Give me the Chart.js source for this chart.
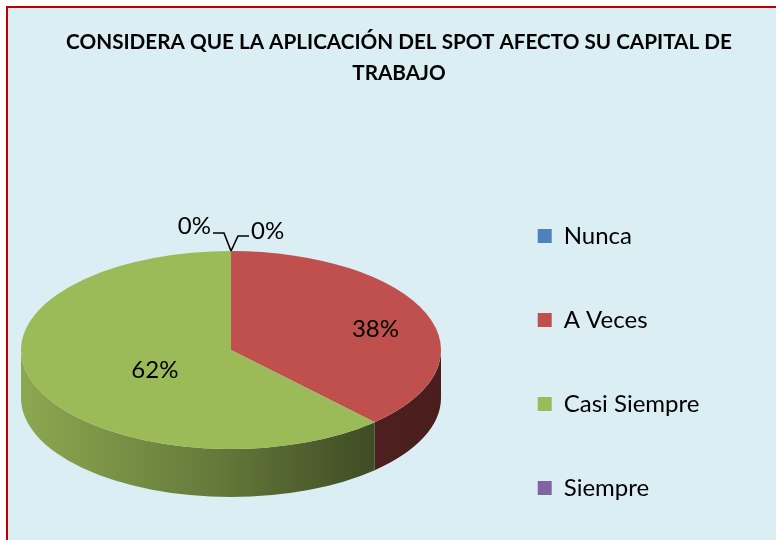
<!DOCTYPE html>
<html>
<head>
<meta charset="utf-8">
<script src="https://cdn.jsdelivr.net/npm/chart.js@4.4.1/dist/chart.umd.min.js"></script>
<style>
  body { margin: 0; background: #fff; overflow: hidden; width: 776px; height: 540px; position: relative; }
  #frame { position: absolute; left: 6px; top: 6px; width: 820px; height: 720px; border: 2px solid #c00000; background: #dbeef4; }
  #pie1 { position: absolute; left: 0; top: 0; }
</style>
</head>
<body>
<div id="frame"></div>
<canvas id="pie1" width="776" height="724"></canvas>
<script>
var titleLines = ["CONSIDERA QUE LA APLICACIÓN DEL SPOT AFECTO SU CAPITAL DE", "TRABAJO"];
var labels = ["Nunca", "A Veces", "Casi Siempre", "Siempre"];
var values = [0, 38, 62, 0];
var colors = ['#4f81bd', '#c0504d', '#9bbb59', '#8064a2'];

// darken a hex colour by factor f
function shade(hex, f) {
  var n = parseInt(hex.slice(1), 16);
  var r = Math.round(((n >> 16) & 255) * f);
  var g = Math.round(((n >> 8) & 255) * f);
  var b = Math.round((n & 255) * f);
  return 'rgb(' + r + ',' + g + ',' + b + ')';
}

// draws the pie as a tilted disc: sides first, then the library's own arcs squashed
var pie3d = {
  id: 'pie3d',
  beforeDatasetsDraw: function(chart, args, o) {
    var ctx = chart.ctx;
    var arcs = chart.getDatasetMeta(0).data;
    arcs.forEach(function(arc, i) {
      var lo = Math.max(arc.startAngle, 0);
      var hi = Math.min(arc.endAngle, Math.PI);
      if (hi <= lo) return;
      var c = colors[i];
      var g = ctx.createLinearGradient(o.cx - o.rx, 0, o.cx + o.rx, 0);
      g.addColorStop(0, shade(c, 0.9));
      g.addColorStop(0.45, shade(c, 0.66));
      g.addColorStop(0.85, shade(c, 0.4));
      g.addColorStop(1, shade(c, 0.38));
      ctx.beginPath();
      ctx.ellipse(o.cx, o.cy, o.rx, o.ry, 0, lo, hi, false);
      ctx.ellipse(o.cx, o.cy + o.depth, o.rx, o.ry, 0, hi, lo, true);
      ctx.closePath();
      ctx.fillStyle = g;
      ctx.fill();
    });
    var a = arcs[0];
    ctx.save();
    ctx.translate(o.cx, o.cy);
    ctx.scale(o.rx / a.outerRadius, o.ry / a.outerRadius);
    ctx.translate(-a.x, -a.y);
  },
  afterDatasetsDraw: function(chart, args, o) {
    var ctx = chart.ctx;
    ctx.restore();
    var arcs = chart.getDatasetMeta(0).data;
    var total = values.reduce(function(s, v) { return s + v; }, 0);
    ctx.save();
    ctx.font = '24px Lato';
    ctx.fillStyle = '#000';
    ctx.strokeStyle = '#000';
    ctx.lineWidth = 1.6;
    ctx.textBaseline = 'middle';
    arcs.forEach(function(arc, i) {
      var txt = Math.round(values[i] / total * 100) + '%';
      if (values[i] > 0) {
        var mid = (arc.startAngle + arc.endAngle) / 2;
        var f = o.labelRadius[i];
        ctx.textAlign = 'center';
        ctx.fillText(txt, o.cx + o.rx * f * Math.cos(mid), o.cy + o.ry * f * Math.sin(mid) + o.labelDy);
      } else {
        // zero slice: leader line from the rim
        var ax = o.cx + o.rx * Math.cos(arc.startAngle);
        var ay = o.cy + o.ry * Math.sin(arc.startAngle);
        var side = i === 0 ? 1 : -1;
        var ex = ax + side * 7, ey = ay - (i === 0 ? 15 : 18);
        ctx.beginPath();
        ctx.moveTo(ax, ay);
        ctx.lineTo(ex, ey);
        ctx.lineTo(ex + side * 11, ey);
        ctx.stroke();
        ctx.textAlign = i === 0 ? 'left' : 'right';
        ctx.fillText(txt, ex + side * 13, ey - (i === 0 ? 5 : 7));
      }
    });
    ctx.restore();
  }
};

var pie1e = document.getElementById("pie1");
var pie1 = new Chart(pie1e, {
  type: 'pie',
  data: {
    labels: labels,
    datasets: [{
      data: values,
      backgroundColor: colors,
      borderWidth: 0,
      clip: false
    }]
  },
  options: {
    responsive: false,
    animation: false,
    layout: { padding: { left: 64, right: 42 } },
    plugins: {
      title: {
        display: true,
        text: titleLines,
        color: '#000',
        font: { family: 'Lato', size: 20.7, weight: 'bold', lineHeight: 1.5 },
        padding: { top: 27, bottom: 0 }
      },
      legend: {
        position: 'right',
        labels: {
          boxWidth: 14,
          boxHeight: 14,
          padding: 60,
          color: '#000',
          font: { family: 'Lato', size: 24 },
          // trailing spaces widen the legend column so it sits further left
          generateLabels: function(chart) {
            var items = Chart.overrides.pie.plugins.legend.labels.generateLabels(chart);
            items.forEach(function(it) { it.text = it.text + '    '; });
            return items;
          }
        }
      },
      tooltip: { enabled: false },
      pie3d: { cx: 231, cy: 350, rx: 210, ry: 99, depth: 48, labelRadius: [0.7, 0.74, 0.39, 0.7], labelDy: 6 }
    }
  },
  plugins: [pie3d]
});
</script>
</body>
</html>
